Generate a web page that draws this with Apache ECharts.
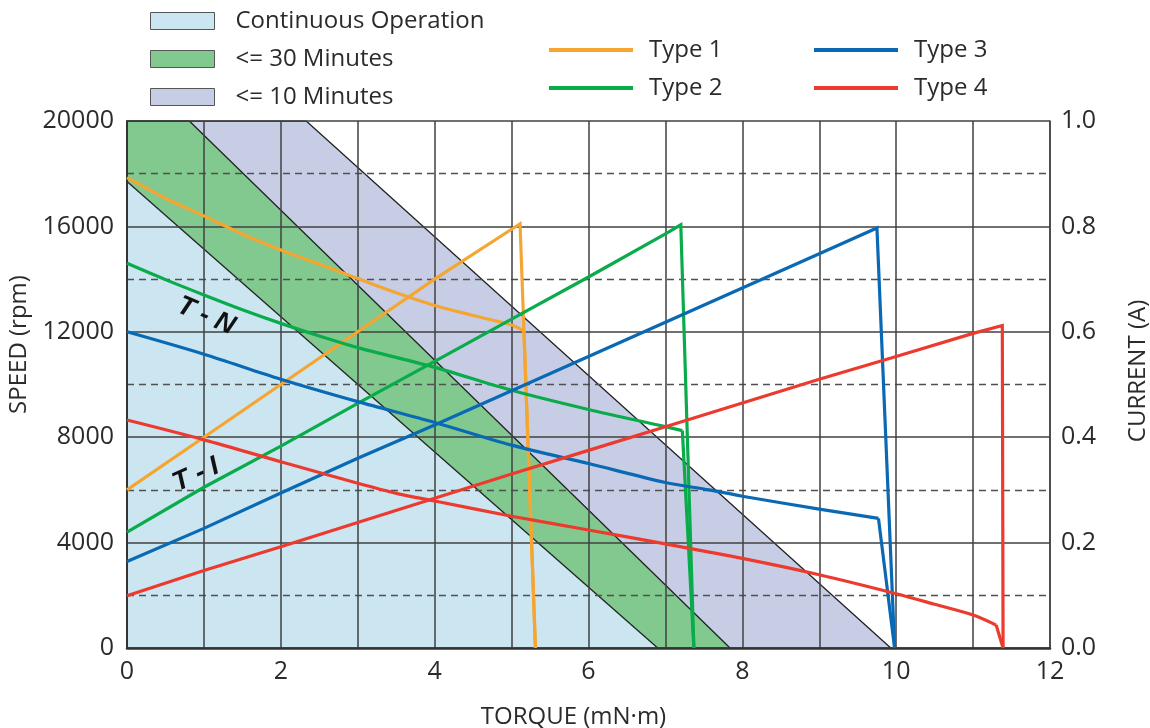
<!DOCTYPE html>
<html>
<head>
<meta charset="utf-8">
<script src="https://cdn.jsdelivr.net/npm/echarts@6/dist/echarts.min.js"></script>
<style>
html,body{margin:0;padding:0;background:#fff;}
#chart{width:1150px;height:728px;}
</style>
</head>
<body>
<div id="chart"></div>
<script>
// ---- operating region boundaries (torque mN·m, speed rpm) ----
const continuousBoundary = [[0,17700],[6.9,0]];
const min30Boundary = [[0,20000],[0.81,20000],[7.84,0]];
const min10Boundary = [[0,20000],[2.33,20000],[9.93,0]];

// ---- T-N curves (torque, speed rpm); last point = drop to zero speed ----
const type1Speed = [[0,17850],[0.5,17070],[1,16400],[1.5,15710],[2,15100],[2.5,14570],[3,14020],[3.5,13480],[4,13000],[4.5,12620],[5,12260],[5.16,12030],[5.31,0]];
const type2Speed = [[0,14600],[0.5,13980],[1,13400],[1.5,12840],[2,12320],[2.5,11840],[3,11400],[4,10650],[5,9780],[6,9050],[7,8400],[7.22,8250],[7.37,0]];
const type3Speed = [[0,12000],[1,11150],[2,10200],[3,9350],[4,8560],[5,7700],[6,7000],[7,6280],[7.57,6000],[8,5760],[9,5270],[9.77,4920],[9.98,0]];
const type4Speed = [[0,8650],[1,7900],[2,7070],[3,6250],[3.5,5870],[4,5580],[5,5000],[6,4480],[7,3950],[8,3400],[9,2780],[10,2060],[10.5,1660],[11,1250],[11.3,870],[11.39,0]];

// ---- T-I curves (torque, current A) ----
const type1Current = [[0,0.3],[1,0.4],[2,0.5],[3,0.6],[4,0.7],[5.11,0.805],[5.31,0]];
const type2Current = [[0,0.22],[1,0.305],[2,0.383],[3,0.464],[4,0.544],[5,0.624],[6,0.704],[7,0.786],[7.2,0.803],[7.37,0]];
const type3Current = [[0,0.164],[1,0.227],[2,0.294],[3,0.36],[4,0.423],[5,0.488],[6,0.553],[7,0.618],[8,0.683],[9,0.748],[9.75,0.797],[9.98,0]];
const type4Current = [[0,0.099],[1,0.147],[2,0.192],[3,0.238],[4,0.284],[5,0.33],[6,0.375],[7,0.42],[8,0.465],[9,0.51],[10,0.553],[11,0.597],[11.38,0.612],[11.39,0]];

const regionNames = ['Continuous Operation','<= 30 Minutes','<= 10 Minutes'];
const typeNames = ['Type 1','Type 2','Type 3','Type 4'];
const typeColors = ['#f5a630','#0aab4a','#0a69b4','#ec3b2e'];
const regionColors = ['#cbe5f1','#82c98f','#c8cde6'];

const FONT = 'Open Sans';
const TXT = '#2b2b2b';

const chart = echarts.init(document.getElementById('chart'), null, {renderer:'canvas'});

function areaSeries(name, data, color){
  return {
    name: name, type:'line', data:data, z:1, symbol:'none', showSymbol:false,
    lineStyle:{color:'#222', width:1.3},
    itemStyle:{color:color},
    areaStyle:{color:color, opacity:1},
    silent:true
  };
}
function curve(name, data, color, axis, smooth){
  return {
    name:name, type:'line', data:data, yAxisIndex:axis, z:5, symbol:'none', showSymbol:false,
    smooth:smooth,
    lineStyle:{color:color, width:3.2, join:'miter'}, itemStyle:{color:color}, silent:true
  };
}
function speedCurve(i, data){
  return [
    curve(typeNames[i], data.slice(0,-1), typeColors[i], 0, 0.3),
    curve(typeNames[i], data.slice(-2), typeColors[i], 0, false)
  ];
}

const gridLine = {color:'#404040', width:1.5};

const option = {
  animation:false,
  backgroundColor:'#fff',
  grid:{left:127, right:100, top:121, bottom:80, outerBoundsMode:'none', containLabel:false},
  legend:[
    {
      orient:'vertical', left:150, top:9, padding:0, itemWidth:64, itemHeight:17, itemGap:14,
      icon:'rect', selectedMode:false,
      textStyle:{fontFamily:FONT, fontSize:24, color:TXT, padding:[0,0,0,16]},
      data: regionNames.map((n,i)=>({name:n, icon:'rect', itemStyle:{color:regionColors[i], borderColor:'#555', borderWidth:1}}))
    },
    {
      orient:'vertical', left:549, top:38, padding:0, itemWidth:84, itemHeight:4, itemGap:14,
      icon:'rect', selectedMode:false,
      textStyle:{fontFamily:FONT, fontSize:24, color:TXT, padding:[0,0,0,11]},
      data:[typeNames[0], typeNames[1]]
    },
    {
      orient:'vertical', left:814, top:38, padding:0, itemWidth:84, itemHeight:4, itemGap:14,
      icon:'rect', selectedMode:false,
      textStyle:{fontFamily:FONT, fontSize:24, color:TXT, padding:[0,0,0,11]},
      data:[typeNames[2], typeNames[3]]
    }
  ],
  xAxis:{
    type:'value', min:0, max:12, interval:2, z:3,
    name:'TORQUE (mN·m)', nameLocation:'middle', nameGap:57,
    nameTextStyle:{fontFamily:FONT, fontSize:24, color:TXT, padding:[0,30,0,0]},
    axisLine:{show:true, onZero:false, lineStyle:{color:'#333', width:2.5}},
    axisTick:{show:false},
    axisLabel:{fontFamily:FONT, fontSize:25, color:TXT, margin:11},
    splitLine:{show:true, lineStyle:gridLine},
    minorTick:{show:false, splitNumber:2},
    minorSplitLine:{show:true, lineStyle:gridLine}
  },
  yAxis:[
    {
      type:'value', min:0, max:20000, interval:4000, z:3,
      name:'SPEED (rpm)', nameLocation:'middle', nameGap:86, nameRotate:90,
      nameTextStyle:{fontFamily:FONT, fontSize:24, color:TXT, padding:[0,0,0,80]},
      axisLine:{show:true, onZero:false, lineStyle:{color:'#333', width:2}},
      axisTick:{show:false},
      axisLabel:{fontFamily:FONT, fontSize:25, color:TXT, margin:13, formatter:v=>String(v)},
      splitLine:{show:true, lineStyle:gridLine},
      minorTick:{show:false, splitNumber:2},
      minorSplitLine:{show:true, lineStyle:{color:'#505050', width:1.3, type:[7,5]}}
    },
    {
      type:'value', min:0, max:1, interval:0.2, position:'right', z:3,
      name:'CURRENT (A)', nameLocation:'middle', nameGap:76, nameRotate:90,
      nameTextStyle:{fontFamily:FONT, fontSize:24, color:TXT, padding:[0,0,0,27]},
      axisLine:{show:true, onZero:false, lineStyle:{color:'#444', width:1.5}},
      axisTick:{show:false},
      axisLabel:{fontFamily:FONT, fontSize:25, color:TXT, margin:11, formatter:v=>v.toFixed(1)},
      splitLine:{show:false}
    }
  ],
  graphic:[
    {type:'text', x:206, y:316, rotation:-0.4, z:10, style:{text:'T - N', x:0, y:0, align:'center', verticalAlign:'middle', font:'italic bold 27px "Liberation Sans"', fill:'#111'}},
    {type:'text', x:196, y:475, rotation:0.42, z:10, style:{text:'T - I', x:0, y:0, align:'center', verticalAlign:'middle', font:'italic bold 27px "Liberation Sans"', fill:'#111'}}
  ],
  series:[
    areaSeries(regionNames[2], min10Boundary, regionColors[2]),
    areaSeries(regionNames[1], min30Boundary, regionColors[1]),
    areaSeries(regionNames[0], continuousBoundary, regionColors[0]),
    ...speedCurve(0, type1Speed),
    curve(typeNames[0], type1Current, typeColors[0], 1, false),
    ...speedCurve(1, type2Speed),
    curve(typeNames[1], type2Current, typeColors[1], 1, false),
    ...speedCurve(2, type3Speed),
    curve(typeNames[2], type3Current, typeColors[2], 1, false),
    ...speedCurve(3, type4Speed),
    curve(typeNames[3], type4Current, typeColors[3], 1, false)
  ]
};
chart.setOption(option);
</script>
</body>
</html>
